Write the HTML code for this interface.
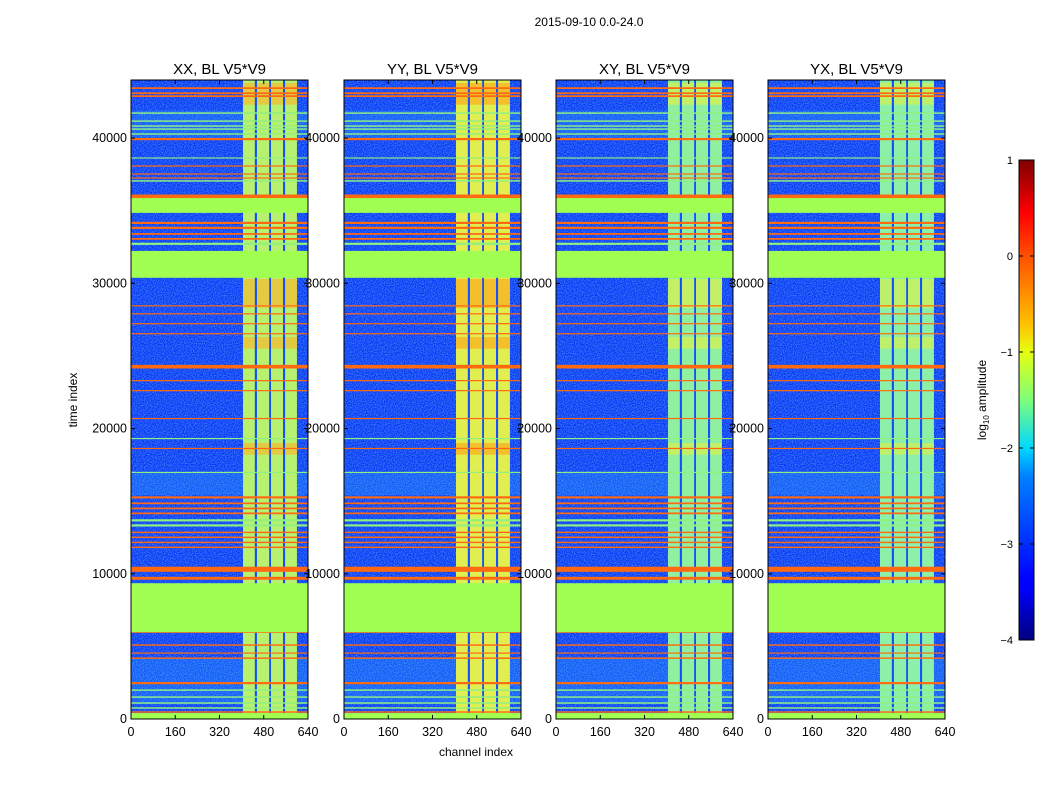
<!DOCTYPE html>
<html><head><meta charset="utf-8"><style>
body{margin:0;background:#fff;}
svg{display:block;font-family:"Liberation Sans",sans-serif;}
</style></head><body>
<svg id="chart" width="1050" height="800" viewBox="0 0 1050 800" xmlns="http://www.w3.org/2000/svg">
<defs>
<linearGradient id="jet" x1="0" y1="1" x2="0" y2="0">
<stop offset="0" stop-color="#00007f"/><stop offset="0.11" stop-color="#0000ff"/>
<stop offset="0.125" stop-color="#0000ff"/><stop offset="0.34" stop-color="#0080ff"/>
<stop offset="0.4" stop-color="#00d8ff"/><stop offset="0.5" stop-color="#7dff7a"/>
<stop offset="0.6" stop-color="#e6ff10"/><stop offset="0.66" stop-color="#ffc000"/>
<stop offset="0.8" stop-color="#ff5000"/><stop offset="0.89" stop-color="#ff0000"/>
<stop offset="1" stop-color="#7f0000"/>
</linearGradient>
<filter id="noise" x="0" y="0" width="100%" height="100%">
<feTurbulence type="fractalNoise" baseFrequency="0.9" numOctaves="1" seed="3"/>
<feColorMatrix values="0 0 0 0 0.1  0 0 0 0 0.55  0 0 0 0 1  0 0 0 1.4 -0.5"/>
</filter>
</defs>
<text x="589" y="26" font-size="12" text-anchor="middle">2015-09-10 0.0-24.0</text>
<g id="panels"></g>
<text x="476" y="756" font-size="12" text-anchor="middle">channel index</text>
<text transform="translate(77,400) rotate(-90)" font-size="12" text-anchor="middle">time index</text>
<g>
<rect x="1019" y="160" width="15" height="480" fill="url(#jet)" stroke="#000" stroke-width="1"/>
<g id="cbticks"></g>
<text transform="translate(986,400) rotate(-90)" font-size="12" text-anchor="middle">log<tspan font-size="8" dy="3">10</tspan><tspan dy="-3"> amplitude</tspan></text>
</g>
</svg>
<script>
const panelTitles=["XX, BL V5*V9","YY, BL V5*V9","XY, BL V5*V9","YX, BL V5*V9"];
const panelLefts=[131,344,556,768];
const bandColors=["#b8f070","#e0ee50","#90f0a0","#8cf0a8"];
const bandHot=["#ffb020","#ffa010","#e8f040","#e0f040"];
const yTicks=[0,10000,20000,30000,40000];
const xTicks=[0,160,320,480,640];
const cbTicks=[-4,-3,-2,-1,0,1];
const tMax=44000, chMax=640;
// vertical RFI bands (channel ranges)
const bands=[[405,448],[455,500],[506,550],[557,600]];
const darkChans=[[448,455],[500,506],[550,557]];
// full-width flagged (green) blocks [t0,t1]
const greenBlocks=[[34850,35870],[30380,32230],[5980,9350],[0,410]];
// orange lines [t, thickness]
const orangeLines=[[43440,120],[43090,120],[42890,120],[39930,150],[38080,80],[37530,80],[37250,80],[35940,350],[34160,150],[33820,150],[33400,120],[33060,120],[28450,80],[27900,80],[27220,80],[26530,80],[24260,250],[23300,80],[22610,80],[20690,80],[18630,80],[15260,150],[14850,120],[14500,120],[14160,120],[12850,100],[12510,100],[12160,100],[11820,100],[10310,350],[9690,200],[5980,100],[5090,100],[4540,80],[4190,100],[2470,150],[480,100]];
// light (green/cyan) lines [t, thickness]
const lightLines=[[41720,100],[41170,100],[40830,100],[40620,100],[40280,100],[38630,80],[37050,100],[32720,150],[19310,80],[16980,80],[1990,100],[1510,100],[1100,100],[760,100],[13680,150],[13330,150]];
// cyan-ish (elevated) time ranges [t0,t1]
const cyanRanges=[[40000,41900],[15400,17000],[1000,4200]];
// hot (orange-ish) segments in bands [t0,t1]
const hotSegs=[[28300,30300],[42300,43800],[18200,19000],[25500,26300]];

const NS="http://www.w3.org/2000/svg";
const pTop=80,pBottom=719,pW=177;
function yS(t){return pBottom-(t/tMax)*(pBottom-pTop);}
function mk(tag,attrs,parent){const e=document.createElementNS(NS,tag);for(const k in attrs)e.setAttribute(k,attrs[k]);parent.appendChild(e);return e;}
const G=document.getElementById('panels');
panelLefts.forEach((L,pi)=>{
  const xS=c=>L+(c/chMax)*pW;
  const g=mk('g',{},G);
  
  
  const bg=mk('rect',{x:L,y:pTop,width:pW,height:pBottom-pTop,fill:'#0c34f4'},g);
  
  
  cyanRanges.forEach(c=>{
    const r=mk('rect',{x:L,y:yS(c[1]),width:pW,height:yS(c[0])-yS(c[1]),fill:'#1456f6'},g);
    
    
  });
  const nz=mk('rect',{x:L,y:pTop,width:pW,height:pBottom-pTop,filter:'url(#noise)'},g);
  
  
  bands.forEach(b=>{
    const r=mk('rect',{x:xS(b[0]),y:pTop,width:xS(b[1])-xS(b[0]),height:pBottom-pTop,fill:bandColors[pi]},g);
    
    
    hotSegs.forEach(s=>{
      const h=mk('rect',{x:xS(b[0]),y:yS(s[1]),width:xS(b[1])-xS(b[0]),height:yS(s[0])-yS(s[1]),fill:bandHot[pi],opacity:0.6},g);
      
      
    });
  });
  darkChans.forEach(b=>{
    const r=mk('rect',{x:xS(b[0]),y:pTop,width:xS(b[1])-xS(b[0]),height:pBottom-pTop,fill:'#1050ff'},g);
    
    
  });
  lightLines.forEach(l=>{
    const r=mk('rect',{x:L,y:yS(l[0]+l[1]/2),width:pW,height:Math.max(1,yS(l[0]-l[1]/2)-yS(l[0]+l[1]/2)),fill:'#90f080'},g);
    
    
  });
  orangeLines.forEach(l=>{
    const r=mk('rect',{x:L,y:yS(l[0]+l[1]/2),width:pW,height:Math.max(1.2,yS(l[0]-l[1]/2)-yS(l[0]+l[1]/2)),fill:'#ff6a10'},g);
    
    
  });
  greenBlocks.forEach(b=>{
    const r=mk('rect',{x:L,y:yS(b[1]),width:pW,height:yS(b[0])-yS(b[1]),fill:'#a0ff50'},g);
    
    
  });
  const fr=mk('rect',{x:L,y:pTop,width:pW,height:pBottom-pTop,fill:'none',stroke:'#000','stroke-width':1},g);
  
  
  const tt=mk('text',{x:L+pW/2,y:74,'font-size':15,'text-anchor':'middle'},g);
  tt.textContent=panelTitles[pi];
  
  
  yTicks.forEach(t=>{
    const y=yS(t);
    mk('line',{x1:L,x2:L+4,y1:y,y2:y,stroke:'#000'},g);
    mk('line',{x1:L+pW-4,x2:L+pW,y1:y,y2:y,stroke:'#000'},g);
    const tx=mk('text',{x:L-4,y:y+4,'font-size':12.5,'text-anchor':'end'},g);
    tx.textContent=t;
    
    
  });
  xTicks.forEach(c=>{
    const x=xS(c);
    mk('line',{x1:x,x2:x,y1:pBottom,y2:pBottom-4,stroke:'#000'},g);
    mk('line',{x1:x,x2:x,y1:pTop,y2:pTop+4,stroke:'#000'},g);
    const tx=mk('text',{x:x,y:736,'font-size':12.5,'text-anchor':'middle'},g);
    tx.textContent=c;
    
    
  });
});
const cb=document.getElementById('cbticks');
cbTicks.forEach(v=>{
  const y=640-(v+4)/5*480;
  mk('line',{x1:1019,x2:1023,y1:y,y2:y,stroke:'#000'},cb);
  mk('line',{x1:1030,x2:1034,y1:y,y2:y,stroke:'#000'},cb);
  const tx=mk('text',{x:1013,y:y+4,'font-size':11,'text-anchor':'end'},cb);
  tx.textContent=v<0?'\u2212'+(-v):String(v);
  
  
});
</script>
</body></html>
